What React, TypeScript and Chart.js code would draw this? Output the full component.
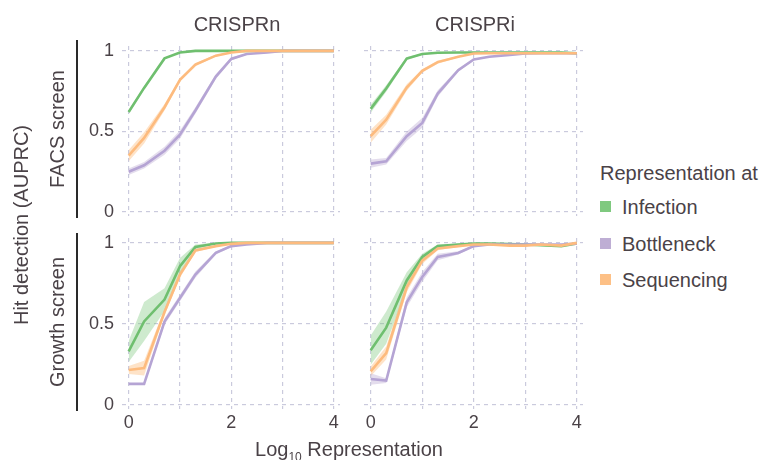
import React, { useEffect, useRef } from 'react';
import { Chart, registerables } from 'chart.js';

Chart.register(...registerables);

// ---------- data ----------
const LOG_REP = [0, 0.301, 0.699, 1, 1.301, 1.699, 2, 2.301, 2.699, 3, 3.301, 3.699, 4];
const X_TICKS = [0, 1, 2, 3, 4];
const Y_TICKS = [0, 0.5, 1];
const SERIES_NAMES = ['Infection', 'Bottleneck', 'Sequencing'];
const COL_TITLES = ['CRISPRn', 'CRISPRi'];
const ROW_TITLES = ['FACS screen', 'Growth screen'];

// FACS screen, CRISPRn
const FACS_N_INF = [0.62, 0.77, 0.953, 0.99, 1.0, 1.0, 1.0, 1.0, 1.0, 1.0, 1.0, 1.0, 1.0];
const FACS_N_INF_ERR = [0.012, 0.01, 0.005, 0.003, 0, 0, 0, 0, 0, 0, 0, 0, 0];
const FACS_N_BOT = [0.25, 0.29, 0.38, 0.48, 0.63, 0.84, 0.95, 0.98, 0.99, 1.0, 1.0, 1.0, 1.0];
const FACS_N_BOT_ERR = [0.02, 0.02, 0.025, 0.025, 0.02, 0.015, 0.01, 0.005, 0, 0, 0, 0, 0];
const FACS_N_SEQ = [0.35, 0.46, 0.65, 0.82, 0.915, 0.97, 0.99, 1.0, 1.0, 1.0, 1.0, 1.0, 1.0];
const FACS_N_SEQ_ERR = [0.035, 0.035, 0.02, 0.01, 0.01, 0.005, 0, 0, 0, 0, 0, 0, 0];

// FACS screen, CRISPRi
const FACS_I_INF = [0.64, 0.766, 0.952, 0.98, 0.988, 0.99, 0.99, 0.99, 0.99, 0.99, 0.99, 0.99, 0.985];
const FACS_I_INF_ERR = [0.025, 0.02, 0.01, 0.005, 0, 0, 0, 0, 0, 0, 0, 0, 0];
const FACS_I_BOT = [0.3, 0.315, 0.47, 0.553, 0.735, 0.88, 0.946, 0.963, 0.975, 0.983, 0.985, 0.985, 0.985];
const FACS_I_BOT_ERR = [0.025, 0.02, 0.03, 0.03, 0.02, 0.01, 0.005, 0.003, 0, 0, 0, 0, 0];
const FACS_I_SEQ = [0.47, 0.573, 0.772, 0.876, 0.93, 0.963, 0.983, 0.985, 0.985, 0.985, 0.985, 0.985, 0.985];
const FACS_I_SEQ_ERR = [0.04, 0.03, 0.02, 0.01, 0.01, 0.005, 0, 0, 0, 0, 0, 0, 0];

// Growth screen, CRISPRn
const GROW_N_INF = [0.33, 0.515, 0.65, 0.856, 0.975, 0.996, 1.0, 1.0, 1.0, 1.0, 1.0, 1.0, 1.0];
const GROW_N_INF_ERR = [0.065, 0.12, 0.07, 0.05, 0.015, 0.005, 0, 0, 0, 0, 0, 0, 0];
const GROW_N_BOT = [0.13, 0.13, 0.515, 0.66, 0.804, 0.938, 0.98, 0.99, 1.0, 1.0, 1.0, 1.0, 1.0];
const GROW_N_BOT_ERR = [0.005, 0.005, 0.02, 0.02, 0.02, 0.01, 0.005, 0, 0, 0, 0, 0, 0];
const GROW_N_SEQ = [0.216, 0.227, 0.573, 0.804, 0.953, 0.98, 0.994, 1.0, 1.0, 1.0, 1.0, 1.0, 1.0];
const GROW_N_SEQ_ERR = [0.025, 0.045, 0.02, 0.02, 0.01, 0.005, 0, 0, 0, 0, 0, 0, 0];

// Growth screen, CRISPRi
const GROW_I_INF = [0.338, 0.477, 0.768, 0.913, 0.98, 0.99, 0.996, 0.996, 0.992, 0.99, 0.985, 0.98, 0.996];
const GROW_I_INF_ERR = [0.09, 0.1, 0.05, 0.02, 0.01, 0.005, 0, 0, 0, 0, 0.005, 0.005, 0];
const GROW_I_BOT = [0.16, 0.15, 0.633, 0.79, 0.913, 0.938, 0.98, 0.99, 0.99, 0.99, 0.99, 0.99, 0.995];
const GROW_I_BOT_ERR = [0.035, 0.015, 0.03, 0.03, 0.02, 0.01, 0.005, 0, 0, 0, 0, 0, 0];
const GROW_I_SEQ = [0.207, 0.32, 0.726, 0.89, 0.965, 0.98, 0.99, 0.99, 0.983, 0.983, 0.99, 0.983, 1.0];
const GROW_I_SEQ_ERR = [0.03, 0.04, 0.03, 0.02, 0.01, 0.005, 0, 0, 0, 0, 0, 0, 0];

// ---------- styles ----------
const FONT = "'Liberation Sans', Arial, Helvetica, sans-serif";
const TEXT = '#4a4247';
const GRID = '#cacadd';
const LINE_COLORS = ['#6fbf6f', '#b5a4d4', '#fdbb7e'];
const BAND_COLORS = ['rgba(127,201,127,0.38)', 'rgba(190,174,212,0.42)', 'rgba(253,192,134,0.45)'];
const LEGEND_COLORS = ['#7fc97f', '#beaed4', '#fdc086'];

type PanelProps = {
  series: number[][];
  showX: boolean;
  showY: boolean;
  left: number;
  top: number;
  width: number;
  height: number;
};

function Panel({ series, showX, showY, left, top, width, height }: PanelProps) {
  const ref = useRef<HTMLCanvasElement | null>(null);
  const PAD_T = 22;
  const PAD_R = 14;
  const yW = showY ? 45 : 0;
  const padL = showY ? 0 : 14;
  const xH = showX ? 32 : 0;
  const padB = showX ? 4 : 22;
  const cw = padL + yW + width + PAD_R;
  const ch = PAD_T + height + xH + padB;
  const cl = left - yW - padL;
  const ct = top - PAD_T;

  useEffect(() => {
    if (!ref.current) return;
    const datasets: any[] = [];
    for (let k = 0; k < 3; k++) {
      const mean = series[2 * k];
      const err = series[2 * k + 1];
      const lowIdx = datasets.length;
      datasets.push({
        label: SERIES_NAMES[k] + ' low',
        data: LOG_REP.map((x, i) => ({ x, y: mean[i] - err[i] })),
        borderWidth: 0,
        pointRadius: 0,
        fill: false,
        order: 10,
      });
      datasets.push({
        label: SERIES_NAMES[k] + ' high',
        data: LOG_REP.map((x, i) => ({ x, y: mean[i] + err[i] })),
        borderWidth: 0,
        pointRadius: 0,
        fill: lowIdx,
        backgroundColor: BAND_COLORS[k],
        order: 10,
      });
      datasets.push({
        label: SERIES_NAMES[k],
        data: LOG_REP.map((x, i) => ({ x, y: mean[i] })),
        borderColor: LINE_COLORS[k],
        borderWidth: 2.6,
        pointRadius: 0,
        fill: false,
        order: 2 - k,
      });
    }
    const chart = new Chart(ref.current, {
      type: 'line',
      data: { datasets },
      options: {
        animation: false,
        responsive: false,
        maintainAspectRatio: false,
        layout: { padding: { top: PAD_T, right: PAD_R, bottom: padB, left: padL } },
        plugins: { legend: { display: false }, tooltip: { enabled: false } },
        elements: { line: { tension: 0 }, point: { radius: 0 } },
        scales: {
          x: {
            type: 'linear',
            min: -0.13,
            max: 4.12,
            afterBuildTicks: (a: any) => {
              a.ticks = X_TICKS.map((value) => ({ value }));
            },
            afterFit: (a: any) => {
              a.height = xH;
            },
            grid: { color: GRID, lineWidth: 1.2, drawTicks: false },
            border: { display: false, dash: [4, 4] },
            ticks: {
              display: showX,
              autoSkip: false,
              maxRotation: 0,
              padding: 3,
              color: TEXT,
              font: { family: FONT, size: 18 },
              callback: (v: any) => (Number(v) % 2 === 0 ? String(v) : ''),
            },
          },
          y: {
            type: 'linear',
            min: -0.025,
            max: 1.03,
            afterBuildTicks: (a: any) => {
              a.ticks = Y_TICKS.map((value) => ({ value }));
            },
            afterFit: (a: any) => {
              a.width = yW;
            },
            grid: { color: GRID, lineWidth: 1.2, drawTicks: false },
            border: { display: false, dash: [4, 4] },
            ticks: {
              display: showY,
              padding: 8,
              color: TEXT,
              font: { family: FONT, size: 18 },
              callback: (v: any) => String(v),
            },
          },
        },
      } as any,
    });
    return () => chart.destroy();
  }, []);

  return (
    <canvas
      ref={ref}
      width={cw}
      height={ch}
      style={{ position: 'absolute', left: cl, top: ct, width: cw, height: ch }}
    />
  );
}

const txt: React.CSSProperties = {
  position: 'absolute',
  fontFamily: FONT,
  color: TEXT,
  fontSize: 20,
  lineHeight: 1,
  whiteSpace: 'nowrap',
};

export default function App() {
  const COLS = [
    { left: 122, width: 218 },
    { left: 364, width: 219 },
  ];
  const ROWS = [
    { top: 46, height: 170 },
    { top: 238, height: 171 },
  ];
  const panels = [
    [FACS_N_INF, FACS_N_INF_ERR, FACS_N_BOT, FACS_N_BOT_ERR, FACS_N_SEQ, FACS_N_SEQ_ERR],
    [FACS_I_INF, FACS_I_INF_ERR, FACS_I_BOT, FACS_I_BOT_ERR, FACS_I_SEQ, FACS_I_SEQ_ERR],
    [GROW_N_INF, GROW_N_INF_ERR, GROW_N_BOT, GROW_N_BOT_ERR, GROW_N_SEQ, GROW_N_SEQ_ERR],
    [GROW_I_INF, GROW_I_INF_ERR, GROW_I_BOT, GROW_I_BOT_ERR, GROW_I_SEQ, GROW_I_SEQ_ERR],
  ];
  return (
    <div
      style={{
        position: 'fixed',
        left: 0,
        top: 0,
        width: 768,
        height: 460,
        background: '#ffffff',
        overflow: 'hidden',
      }}
    >
      {panels.map((s, i) => {
        const r = Math.floor(i / 2);
        const c = i % 2;
        return (
          <Panel
            key={i}
            series={s}
            showX={r === 1}
            showY={c === 0}
            left={COLS[c].left}
            top={ROWS[r].top}
            width={COLS[c].width}
            height={ROWS[r].height}
          />
        );
      })}

      {/* column titles */}
      <div style={{ ...txt, left: 237, top: 24, transform: 'translate(-50%,-50%)' }}>{COL_TITLES[0]}</div>
      <div style={{ ...txt, left: 475, top: 24, transform: 'translate(-50%,-50%)' }}>{COL_TITLES[1]}</div>

      {/* row brackets */}
      <div style={{ position: 'absolute', left: 76, top: 40, width: 1.6, height: 178, background: '#2a2a2a' }} />
      <div style={{ position: 'absolute', left: 76, top: 233, width: 1.6, height: 178, background: '#2a2a2a' }} />

      {/* row titles */}
      <div style={{ ...txt, left: 57, top: 129, transform: 'translate(-50%,-50%) rotate(-90deg)' }}>{ROW_TITLES[0]}</div>
      <div style={{ ...txt, left: 57, top: 322, transform: 'translate(-50%,-50%) rotate(-90deg)' }}>{ROW_TITLES[1]}</div>
      <div style={{ ...txt, left: 21, top: 225, transform: 'translate(-50%,-50%) rotate(-90deg)' }}>
        Hit detection (AUPRC)
      </div>

      {/* x axis title */}
      <div style={{ ...txt, left: 349, top: 449, transform: 'translate(-50%,-50%)' }}>
        Log<span style={{ fontSize: 12, position: 'relative', top: 5 }}>10</span> Representation
      </div>

      {/* legend */}
      <div style={{ ...txt, left: 600, top: 173, transform: 'translateY(-50%)' }}>Representation at</div>
      {SERIES_NAMES.map((n, k) => {
        const cy = [207, 244, 280][k];
        return (
          <React.Fragment key={n}>
            <div
              style={{
                position: 'absolute',
                left: 600,
                top: cy - 6,
                width: 11,
                height: 11,
                background: LEGEND_COLORS[k],
              }}
            />
            <div style={{ ...txt, left: 622, top: cy, transform: 'translateY(-50%)' }}>{n}</div>
          </React.Fragment>
        );
      })}
    </div>
  );
}
